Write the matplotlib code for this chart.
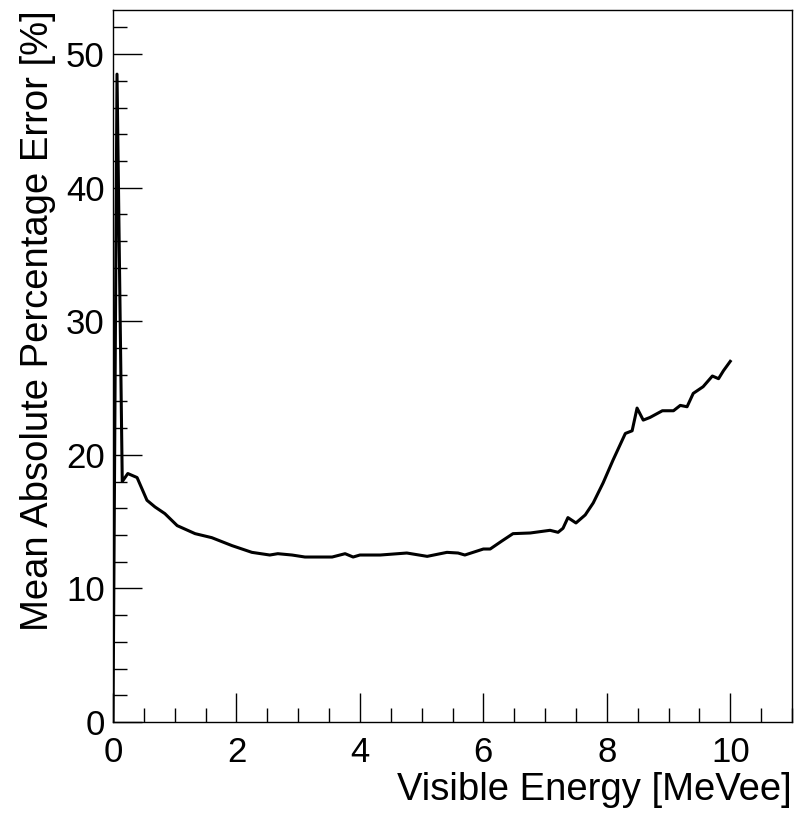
import numpy as np
import matplotlib
matplotlib.use("Agg")
import matplotlib.pyplot as plt
from matplotlib.ticker import MultipleLocator

# curve (visible energy in MeVee, MAPE in %)
energy = [0.0, 0.065, 0.15, 0.24, 0.39, 0.55, 0.68, 0.84, 1.04, 1.33, 1.60, 1.93,
          2.25, 2.54, 2.67, 2.90, 3.11, 3.55, 3.76, 3.89, 4.00, 4.33, 4.76, 5.09,
          5.41, 5.59, 5.70, 6.00, 6.11, 6.30, 6.48, 6.76, 7.08, 7.21, 7.29, 7.37,
          7.50, 7.65, 7.78, 7.94, 8.10, 8.30, 8.41, 8.49, 8.59, 8.70, 8.90, 9.08,
          9.19, 9.30, 9.40, 9.56, 9.71, 9.81, 9.89, 10.0]
mape = [0.0, 48.5, 18.0, 18.6, 18.3, 16.6, 16.1, 15.6, 14.7, 14.1, 13.8, 13.2,
        12.7, 12.5, 12.6, 12.5, 12.35, 12.35, 12.6, 12.35, 12.5, 12.5, 12.65, 12.4,
        12.7, 12.65, 12.5, 12.95, 12.95, 13.55, 14.1, 14.15, 14.35, 14.2, 14.5, 15.3,
        14.9, 15.5, 16.4, 17.9, 19.6, 21.6, 21.8, 23.5, 22.6, 22.8, 23.3, 23.3,
        23.7, 23.6, 24.6, 25.1, 25.9, 25.7, 26.3, 27.0]

plt.rcParams['font.family'] = ['Liberation Sans', 'DejaVu Sans']

fig = plt.figure(figsize=(7.96, 8.15), dpi=100)
ax = fig.add_axes([113/796, 1-722/815, (792-113)/796, (722-10)/815])

ax.plot(energy, mape, color="black", lw=2.2)

ax.set_xlim(0, 11)
ax.set_ylim(0, 53.3)
ax.xaxis.set_major_locator(MultipleLocator(2))
ax.xaxis.set_minor_locator(MultipleLocator(0.5))
ax.yaxis.set_major_locator(MultipleLocator(10))
ax.yaxis.set_minor_locator(MultipleLocator(2))
ax.tick_params(which="both", direction="in", top=False, right=False,
               labelsize=25, width=1, color="black")
ax.tick_params(which="major", length=21)
ax.tick_params(which="minor", length=10)
ax.tick_params(axis="x", pad=10)
ax.tick_params(axis="y", pad=6)
for s in ax.spines.values():
    s.set_linewidth(1)

ax.set_xlabel("Visible Energy [MeVee]", fontsize=27.5, loc="right", labelpad=2)
ax.set_ylabel("Mean Absolute Percentage Error [%]", fontsize=27.5, loc="top", labelpad=7)

fig.savefig("out.png", dpi=100)
